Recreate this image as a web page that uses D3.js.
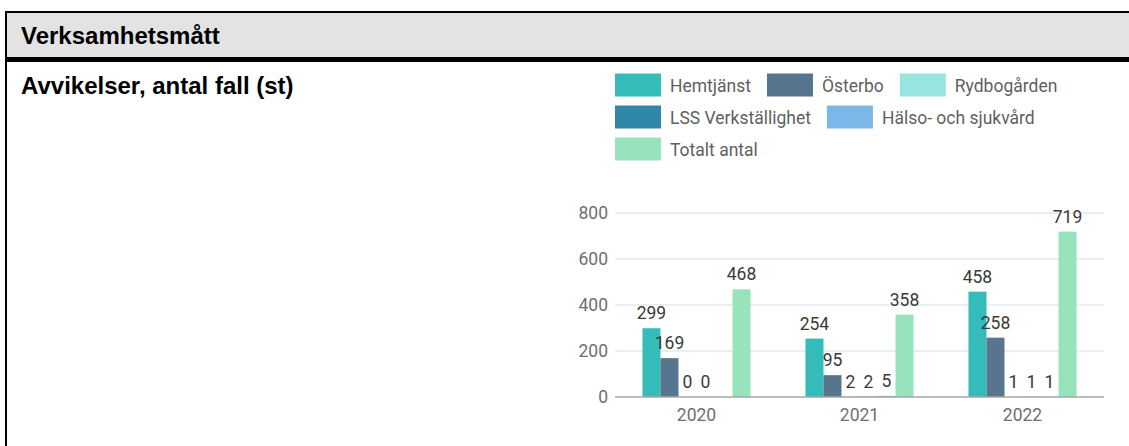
<!DOCTYPE html>
<html>
<head>
<meta charset="utf-8">
<script src="https://cdn.jsdelivr.net/npm/d3@7"></script>
<style>
  html, body { margin: 0; padding: 0; background: #fff; }
  svg { display: block; }
</style>
</head>
<body>
<svg id="chart" width="1129" height="446"></svg>
<script>
// Report heading and row label
const heading = "Verksamhetsmått";
const rowLabel = "Avvikelser, antal fall (st)";

// Years on the x axis
const years = ["2020", "2021", "2022"];

// Series names and their values per year (null = no value reported)
const seriesNames = ["Hemtjänst", "Österbo", "Rydbogården", "LSS Verkställighet", "Hälso- och sjukvård", "Totalt antal"];
const hemtjanst   = [299, 254, 458];
const osterbo     = [169, 95, 258];
const rydbogarden = [0, 2, 1];
const lss         = [0, 2, 1];
const halso       = [null, 5, 1];
const totalt      = [468, 358, 719];

// Y axis ticks
const yTicks = [0, 200, 400, 600, 800];

const seriesColors = ["#35bcba", "#587590", "#98e4de", "#2f88a8", "#7bb8e9", "#97e3bc"];
const seriesValues = [hemtjanst, osterbo, rydbogarden, lss, halso, totalt];

const svg = d3.select("#chart");

// ---- table frame ----
svg.append("rect").attr("x", 5).attr("y", 13).attr("width", 1124).attr("height", 44).attr("fill", "#e3e3e3");
svg.append("rect").attr("x", 5).attr("y", 11).attr("width", 1124).attr("height", 2).attr("fill", "#000");
svg.append("rect").attr("x", 5).attr("y", 57).attr("width", 1124).attr("height", 5).attr("fill", "#000");
svg.append("rect").attr("x", 5).attr("y", 11).attr("width", 2).attr("height", 435).attr("fill", "#000");

svg.append("text").attr("x", 21).attr("y", 44)
  .attr("font-family", "Liberation Sans, Arial, sans-serif").attr("font-weight", "bold")
  .attr("font-size", 24).attr("fill", "#000").text(heading);
svg.append("text").attr("x", 21).attr("y", 94)
  .attr("font-family", "Liberation Sans, Arial, sans-serif").attr("font-weight", "bold")
  .attr("font-size", 24).attr("fill", "#000").text(rowLabel);

// ---- chart ----
const plotLeft = 615, plotRight = 1104, plotTop = 213, plotBottom = 397;
const font = "Roboto, sans-serif";
const fs = 17.5;

const y = d3.scaleLinear().domain([0, 800]).range([plotBottom, plotTop]);
const x0 = d3.scaleBand().domain(years).range([plotLeft, plotRight]).paddingInner(0.337).paddingOuter(0.1685);
const x1 = d3.scaleBand().domain(seriesNames).range([0, x0.bandwidth()]);

// gridlines
svg.append("g").selectAll("line").data(yTicks.filter(t => t > 0)).join("line")
  .attr("x1", plotLeft).attr("x2", plotRight)
  .attr("y1", d => y(d)).attr("y2", d => y(d))
  .attr("stroke", "#e5e9ed").attr("stroke-width", 1.5);

// y axis labels
const yAxis = d3.axisLeft(y).tickValues(yTicks).tickSize(0).tickPadding(7);
const gy = svg.append("g").attr("transform", `translate(${plotLeft},0)`).call(yAxis);
gy.select(".domain").remove();
gy.selectAll("text").attr("font-family", font).attr("font-size", fs).attr("fill", "#6f6f6f");

// bars
const rows = [];
years.forEach((yr, i) => {
  seriesNames.forEach((s, j) => {
    const v = seriesValues[j][i];
    if (v !== null) rows.push({ year: yr, series: s, value: v, color: seriesColors[j] });
  });
});

svg.append("g").selectAll("rect").data(rows).join("rect")
  .attr("x", d => x0(d.year) + x1(d.series))
  .attr("y", d => y(d.value))
  .attr("width", x1.bandwidth())
  .attr("height", d => plotBottom - y(d.value))
  .attr("fill", d => d.color);

// baseline
svg.append("line").attr("x1", plotLeft).attr("x2", plotRight)
  .attr("y1", plotBottom).attr("y2", plotBottom)
  .attr("stroke", "#a6a6a6").attr("stroke-width", 1.5);

// value labels
svg.append("g").selectAll("text").data(rows).join("text")
  .attr("x", d => x0(d.year) + x1(d.series) + x1.bandwidth() / 2)
  .attr("y", d => y(d.value) - 9)
  .attr("text-anchor", "middle")
  .attr("font-family", font).attr("font-size", fs).attr("fill", "#3a3a3a")
  .text(d => d.value);

// x axis labels
const xAxis = d3.axisBottom(x0).tickSize(0).tickPadding(12);
const gx = svg.append("g").attr("transform", `translate(0,${plotBottom})`).call(xAxis);
gx.select(".domain").remove();
gx.selectAll("text").attr("font-family", font).attr("font-size", fs).attr("fill", "#6f6f6f");

// legend (flowing rows)
const legend = svg.append("g");
const swW = 46, swH = 23, rowGap = 32, itemGap = 16, textGap = 9;
let lx = plotLeft, ly = 85;
seriesNames.forEach((s, j) => {
  const g = legend.append("g");
  const t = g.append("text").attr("font-family", font).attr("font-size", fs)
    .attr("fill", "#5f5f5f").text(s);
  const w = t.node().getComputedTextLength();
  if (lx + swW + textGap + w > plotRight && lx > plotLeft) { lx = plotLeft; ly += rowGap; }
  g.insert("rect", "text").attr("x", lx).attr("y", ly - swH / 2)
    .attr("width", swW).attr("height", swH).attr("fill", seriesColors[j]);
  t.attr("x", lx + swW + textGap).attr("y", ly + 6.5);
  lx += swW + textGap + w + itemGap;
});
</script>
</body>
</html>
